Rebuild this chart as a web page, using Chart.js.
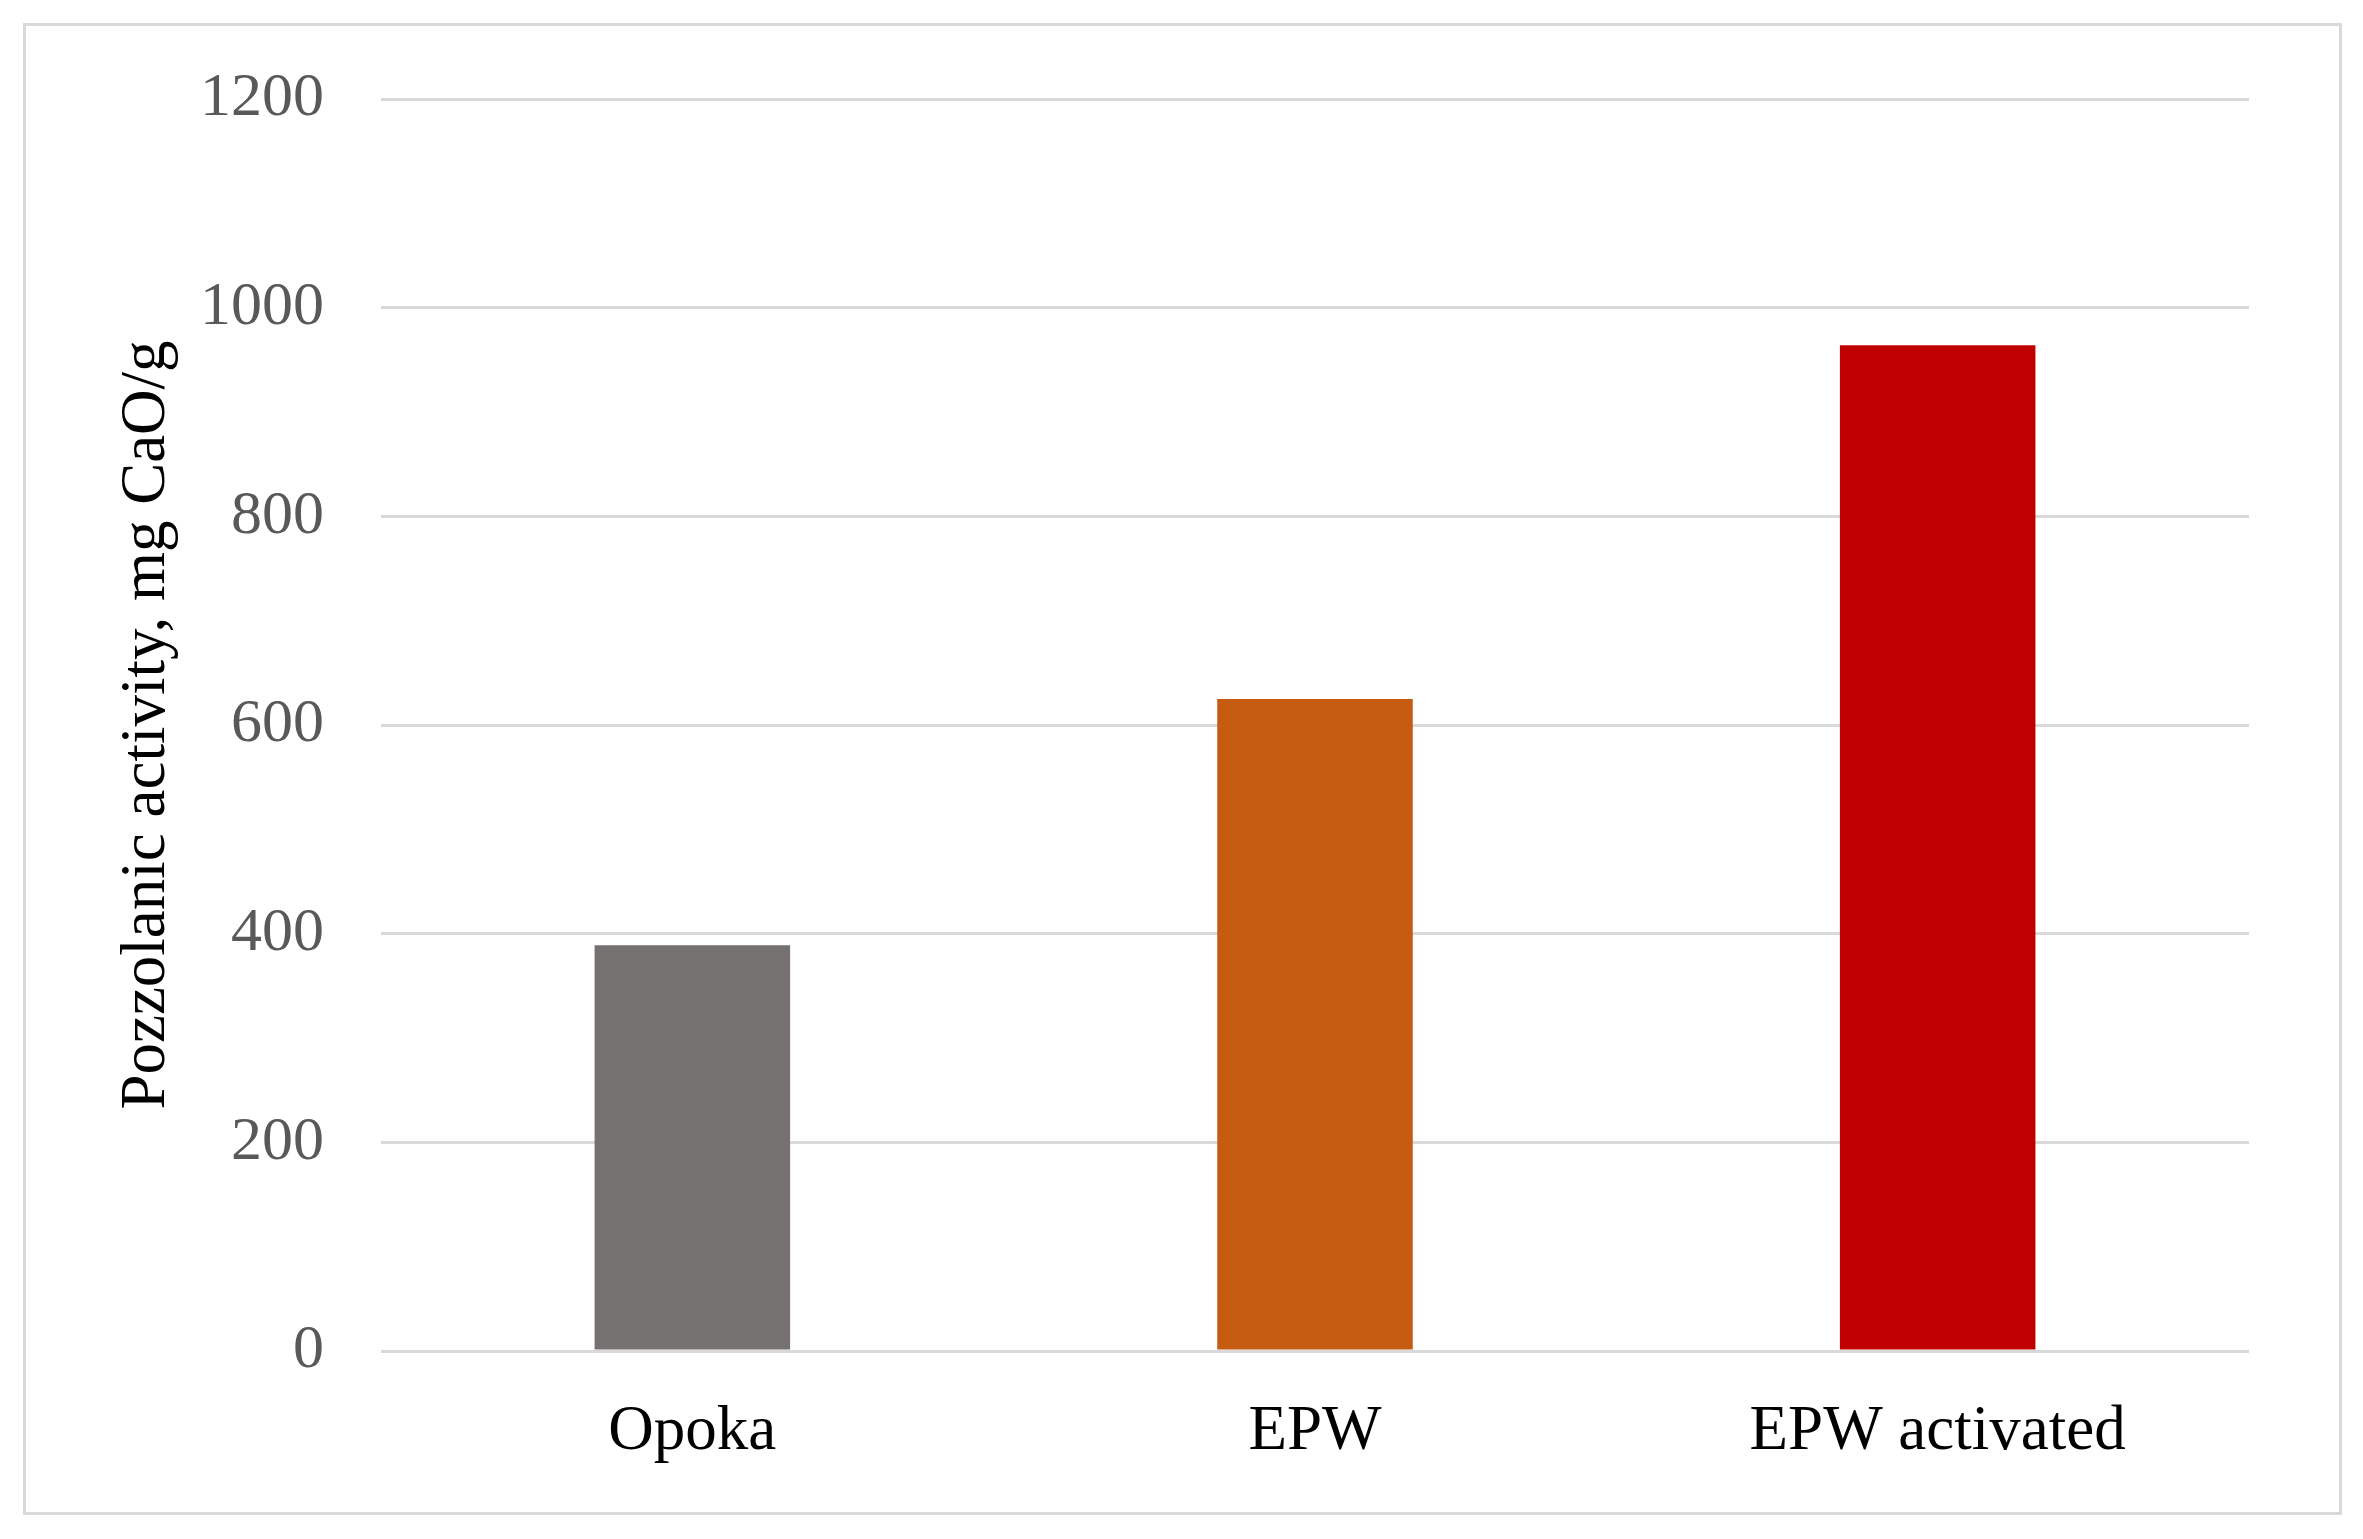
<!DOCTYPE html>
<html lang="en">
<head>
    <meta charset="UTF-8">
    <title>Pozzolanic activity</title>
    <style>
        body { margin: 0; background: #fff; }
        .frame {
            position: absolute;
            left: 23px; top: 23px;
            width: 2313px; height: 1486px;
            border: 3px solid #d9d9d9;
        }
        .wrap { position: absolute; left: 0; top: 0; width: 2363px; height: 1539px; }
    </style>
    <script src="https://cdn.jsdelivr.net/npm/chart.js"></script>
</head>
<body>
    <div class="frame"></div>
    <div class="wrap"><canvas id="chart"></canvas></div>
    <script>
        const categories = ['Opoka', 'EPW', 'EPW activated'];
        const activity = [389, 625, 964];
        const barColors = ['#767171', '#c55a11', '#c00000'];

        new Chart(document.getElementById('chart'), {
            type: 'bar',
            data: {
                labels: categories,
                datasets: [{
                    data: activity,
                    backgroundColor: barColors,
                    barPercentage: 0.314,
                    categoryPercentage: 1
                }]
            },
            options: {
                responsive: true,
                maintainAspectRatio: false,
                animation: false,
                layout: { padding: { top: 99, right: 114, bottom: 0, left: 0 } },
                plugins: { legend: { display: false }, tooltip: { enabled: false } },
                scales: {
                    x: {
                        grid: { display: false },
                        border: { display: false },
                        ticks: { color: '#000', padding: 36, font: { family: 'Liberation Serif', size: 63 } },
                        afterFit: s => { s.height = 188; }
                    },
                    y: {
                        min: 0, max: 1200,
                        ticks: {
                            stepSize: 200, color: '#595959', padding: 57,
                            font: { family: 'Liberation Serif', size: 62 },
                            callback: v => String(v)
                        },
                        grid: { color: '#d9d9d9', lineWidth: 3, drawTicks: false },
                        border: { display: false },
                        title: {
                            display: true,
                            text: 'Pozzolanic activity, mg CaO/g',
                            color: '#000',
                            font: { family: 'Liberation Serif', size: 63 },
                            padding: { top: 110, bottom: 0 }
                        },
                        afterFit: s => { s.width = 381; }
                    }
                }
            }
        });
    </script>
</body>
</html>
